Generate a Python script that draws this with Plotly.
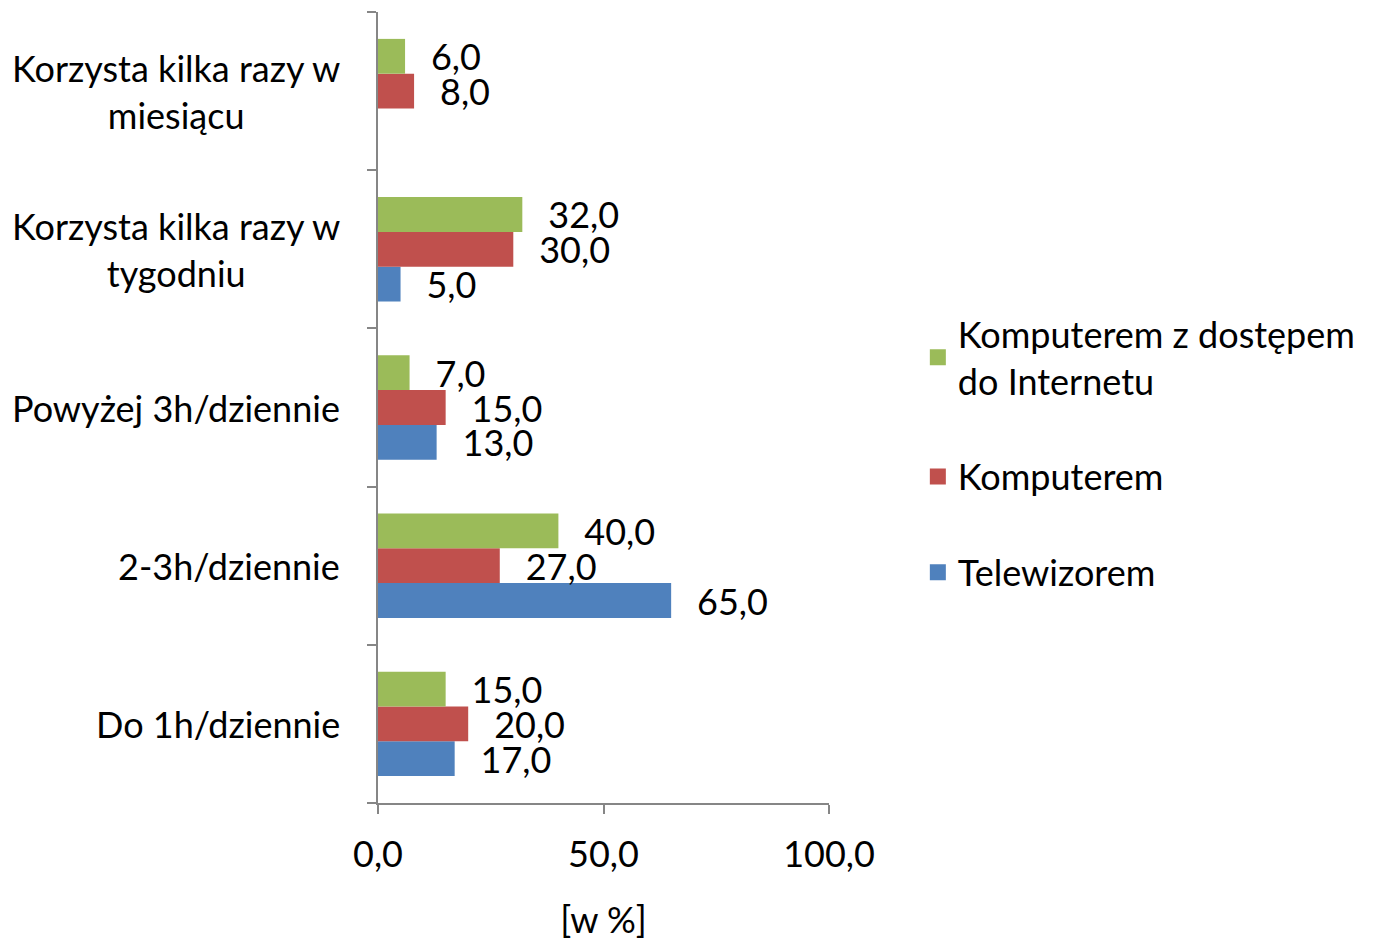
import plotly.graph_objects as go

categories = ["Do 1h/dziennie", "2-3h/dziennie", "Powyżej 3h/dziennie",
              "Korzysta kilka razy w tygodniu", "Korzysta kilka razy w miesiącu"]
category_labels = ["Do 1h/dziennie", "2-3h/dziennie", "Powyżej 3h/dziennie",
                   "Korzysta kilka razy w<br>tygodniu", "Korzysta kilka razy w<br>miesiącu"]
series_names = ["Telewizorem", "Komputerem", "Komputerem z dostępem<br>do Internetu"]
telewizorem = [17.0, 65.0, 13.0, 5.0, None]
komputerem = [20.0, 27.0, 15.0, 30.0, 8.0]
komputerem_internet = [15.0, 40.0, 7.0, 32.0, 6.0]
colors = ["#4F81BD", "#C0504D", "#9BBB59"]
x_ticks = [0, 50, 100]

FONT = "Lato"
FS = 36

fig = go.Figure()
for i, (name, vals, col) in enumerate(zip(series_names,
                                          [telewizorem, komputerem, komputerem_internet],
                                          colors)):
    fig.add_trace(go.Bar(
        y=categories, x=vals, name=name, orientation="h",
        marker=dict(color=col, line=dict(width=0)),
        texttemplate="\u00a0\u00a0\u2009%{x:.1f}",
        textposition="outside", constraintext="none", cliponaxis=False,
        textfont=dict(family=FONT, size=FS, color="#000000"),
        showlegend=False,
    ))
    # legend-only entry with a larger square symbol
    fig.add_trace(go.Scatter(
        x=[None], y=[None], mode="markers", name=name,
        marker=dict(symbol="square", size=20, color=col),
        legendgroup=f"g{i}", legendrank=3 - i, showlegend=True,
    ))

annotations = []
for cat, lab in zip(categories, category_labels):
    annotations.append(dict(
        x=0, xref="paper", xshift=-36, y=cat, yref="y",
        text=lab, showarrow=False, xanchor="right", yanchor="middle",
        align="center", font=dict(family=FONT, size=FS, color="#000000"),
    ))

fig.update_layout(
    width=1381, height=944,
    margin=dict(l=370, r=560, t=4, b=149),
    paper_bgcolor="white", plot_bgcolor="white",
    barmode="group", bargap=0.34, bargroupgap=0,
    separators=", ",
    font=dict(family=FONT, size=FS, color="#000000"),
    annotations=annotations,
    legend=dict(traceorder="grouped", x=1.197, xanchor="left", y=0.631, yanchor="top",
                font=dict(family=FONT, size=FS, color="#000000"),
                tracegroupgap=46, itemwidth=30, bgcolor="rgba(0,0,0,0)"),
    xaxis=dict(range=[0, 100], tickvals=x_ticks, tickformat=".1f",
               showgrid=False, zeroline=False, showline=True, linecolor="#868686", linewidth=2,
               ticks="outside", ticklen=9, tickwidth=2, tickcolor="#868686",
               ticklabelstandoff=10,
               tickfont=dict(family=FONT, size=FS, color="#000000"),
               title=dict(text="[w %]", standoff=34, font=dict(family=FONT, size=FS, color="#000000"))),
    yaxis=dict(showticklabels=False, showgrid=False, zeroline=False, showline=True,
               linecolor="#868686", linewidth=2, ticks="outside", tickson="boundaries",
               ticklen=9, tickwidth=2, tickcolor="#868686"),
)

fig.write_html("out.html")
